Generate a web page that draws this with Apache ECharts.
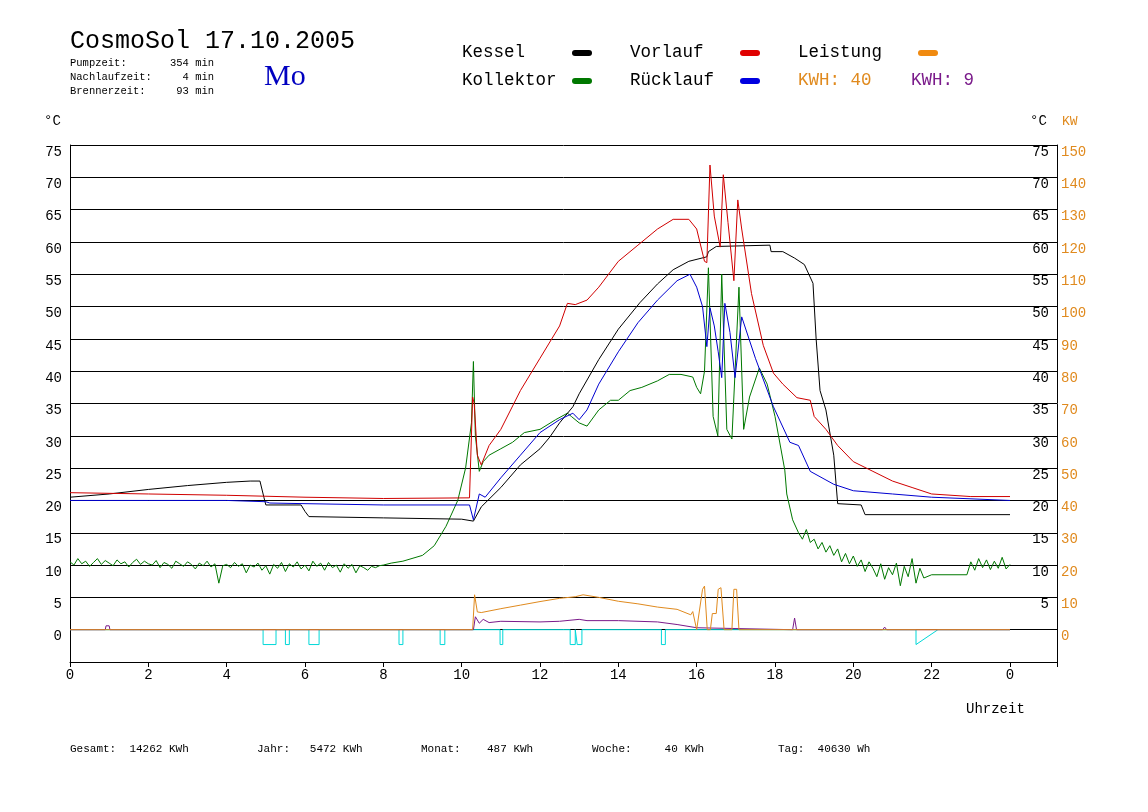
<!DOCTYPE html>
<html><head><meta charset="utf-8">
<script src="https://cdn.jsdelivr.net/npm/echarts@6/dist/echarts.min.js"></script>
<style>html,body{margin:0;background:#fff}#c{width:1148px;height:812px}</style>
</head><body><div id="c"></div>
<script>
const xTicks = [0,2,4,6,8,10,12,14,16,18,20,22,24];
const kesselT = [0,1,2,3,4,4.6,4.85,4.95,5,5.9,6,6.1,8,10,10.3,10.5,11,11.5,12,12.25,12.5,12.84,13,13.5,14,14.55,15,15.4,15.8,16.26,16.3,16.5,17.87,17.9,18.2,18.5,18.75,18.97,19.05,19.15,19.3,19.5,19.6,20.2,20.3,24];
const kesselV = [20.5,21,21.7,22.3,22.8,23,23,20.5,19.3,19.3,18.3,17.5,17.3,17.1,16.8,19,22,25.5,28,29.8,32,34.5,36.5,41.8,46.5,50.6,53.5,55.7,57,57.7,58.5,59.3,59.5,58.5,58.5,57.5,56.5,53.6,45,37,34,27,19.5,19.3,17.8,17.8];
const redT = [0,2,4,6,8,10.2,10.28,10.32,10.4,10.5,10.7,11,11.5,12,12.5,12.7,12.9,13.2,13.5,14,14.5,15,15.4,15.8,16.0,16.2,16.26,16.34,16.45,16.6,16.68,16.8,16.95,17.05,17.15,17.4,17.7,17.96,18.2,18.56,18.9,19.0,19.3,19.6,20,20.5,21,21.5,22,23,24];
const redV = [21.2,21,20.8,20.5,20.3,20.4,36,35,27,25.5,28.5,31,37,42,47,50.5,50.3,51,53,57,59.5,62,63.5,63.5,62,57,56.8,71.9,64,59.2,70.4,63,54,66.5,62,52,44,39.7,38,35.9,35.5,33,31,28.5,26,24.5,23,22,21,20.6,20.6];
const blueT = [0,2,4,5,5.1,6,8,10.2,10.3,10.45,10.6,11,11.5,12,12.5,12.84,13,13.2,13.5,14,14.5,15,15.5,15.83,16.0,16.15,16.26,16.34,16.45,16.55,16.64,16.72,16.85,16.98,17.15,17.5,17.96,18.38,18.6,18.9,19.5,20,21,22,24];
const blueV = [20,20,20,19.8,19.6,19.5,19.3,19.3,17,21,20.5,23.5,27,30.5,32.5,33.5,32.5,34,38,43,47.5,51,54,55,53,50,43.8,49.8,47,43,39,50.5,46,39,48.4,42,34.5,29,28.5,24.5,22.5,21.5,21,20.5,20];
const greenT = [0,0.1,0.2,0.3,0.4,0.5,0.6,0.7,0.8,0.9,1,1.1,1.2,1.3,1.4,1.5,1.6,1.7,1.8,1.9,2,2.1,2.2,2.3,2.4,2.5,2.6,2.7,2.8,2.9,3,3.1,3.2,3.3,3.4,3.5,3.6,3.7,3.8,3.9,4,4.1,4.2,4.3,4.4,4.5,4.6,4.7,4.8,4.9,5,5.1,5.2,5.3,5.4,5.5,5.6,5.7,5.8,5.9,6,6.1,6.2,6.3,6.4,6.5,6.6,6.7,6.8,6.9,7,7.1,7.2,7.3,7.4,7.5,7.6,7.7,7.8,7.9,8,8.2,8.5,9,9.3,9.6,9.9,10.1,10.25,10.3,10.35,10.45,10.55,10.7,11,11.3,11.6,12,12.4,12.7,12.8,13,13.2,13.5,13.8,14,14.3,14.6,15,15.3,15.6,15.9,16.0,16.1,16.2,16.3,16.42,16.54,16.64,16.77,16.9,17.08,17.2,17.35,17.6,17.8,18,18.25,18.3,18.45,18.6,18.7,18.8,18.9,19,19.1,19.2,19.3,19.4,19.5,19.6,19.7,19.8,19.9,20,20.1,20.2,20.3,20.4,20.5,20.6,20.7,20.8,20.9,21,21.1,21.2,21.3,21.4,21.5,21.6,21.7,21.8,22,22.9,23,23.1,23.2,23.3,23.4,23.5,23.6,23.7,23.8,23.9,24];
const greenV = [10.5,10,11,10.2,10.6,9.8,10.4,11,10.1,10.7,10.3,9.9,10.8,10.2,10.5,9.7,10.4,10.9,10.1,10.6,10.2,10,10.7,9.6,10.4,10.1,9.5,10.6,10.2,9.8,10.5,10.1,9.4,10.3,9.9,10.6,9.7,10.2,7.2,9.9,10.1,9.6,10.4,9.8,10.2,8.8,10,9.7,10.3,9.2,9.9,8.6,10.1,9.5,10.4,9,10.2,9.7,10.5,9.4,10,9.1,10.6,9.8,10.3,9.2,10.4,9.6,10,8.9,10.2,9.5,10.1,8.8,9.9,9.6,9.2,9.8,9.6,9.9,10,10.3,10.6,11.5,13,16,20,25,32,41.5,30,24.5,26,27,28,29,30.5,31,32.5,33.5,33,32,31.5,34,35.5,35.5,37,37.5,38.5,39.5,39.5,39.1,37.5,36.5,40,56,33,30,55,31,29.5,53,31,36,40.5,38,33,24.7,21,17,15,14,15.5,13.5,14,12.5,13.5,12,13,11.5,12.5,10.5,11.8,10.2,11.4,9.8,10.8,9,10.5,9.5,8.2,10.2,7.8,9.6,8.5,10.3,6.8,9.8,8.2,11,7.2,9.5,8,8.5,8.5,10.5,9.2,11,9.6,10.8,9.3,10.6,9.5,11.2,9.4,10.1];
const orangeT = [0,10.28,10.33,10.4,10.5,11,11.5,12,12.5,12.9,13.1,13.5,14,14.5,15,15.5,15.85,15.9,16.0,16.05,16.15,16.2,16.27,16.35,16.4,16.5,16.55,16.62,16.7,16.8,16.9,16.95,17.02,17.08,24];
const orangeV = [0,0,10.8,5.5,5.3,6.5,7.6,8.7,9.7,10.2,10.8,10,8.8,8,7,6.3,4.6,5.6,0,0,12.5,13.5,0,0,5,5,12.5,13,0,0,0,12.5,12.5,0,0];
const purpleT = [0,0.9,0.92,1.0,1.02,10.3,10.35,10.45,10.55,10.7,11,12,12.5,13,13.2,14,15,15.5,16,16.05,18.45,18.5,18.55,20.75,20.8,20.85,24];
const purpleV = [0,0,0.6,0.6,0,0,2,1,1.6,1.1,1.3,1.2,1.3,1.6,1.4,1.4,1.2,0.8,0.3,0,0,1.8,0,0,0.4,0,0];
const cyanT = [0,4.93,4.93,5.26,5.26,5.5,5.5,5.6,5.6,6.1,6.1,6.36,6.36,8.4,8.4,8.5,8.5,9.45,9.45,9.57,9.57,10.98,10.98,11.05,11.05,12.77,12.77,12.9,12.9,12.95,12.95,13.07,13.07,15.1,15.1,15.2,15.2,21.6,21.6,22.16,24];
const cyanV = [0,0,-2.3,-2.3,0,0,-2.3,-2.3,0,0,-2.3,-2.3,0,0,-2.3,-2.3,0,0,-2.3,-2.3,0,0,-2.3,-2.3,0,0,-2.3,-2.3,0,0,-2.3,-2.3,0,0,-2.3,-2.3,0,0,-2.3,0,0];

const zip = (t,v)=>t.map((x,i)=>[x,v[i]]);
const mono = 'Liberation Mono';
function line(name,t,v,color,yIdx,z){return {name,type:'line',data:zip(t,v),yAxisIndex:yIdx||0,showSymbol:false,symbol:'none',lineStyle:{color,width:1},itemStyle:{color},z:z||2,animation:false};}
const T=(x,y,text,size,color,extra)=>Object.assign({type:'text',left:x,top:y,style:{text,font:`${size}px "${mono}"`,fill:color||'#000'}},extra||{});
const pill=(x,y,color)=>({type:'rect',shape:{x,y,width:20,height:6,r:3},style:{fill:color}});
const chart = echarts.init(document.getElementById('c'));
chart.setOption({
  animation:false,
  backgroundColor:'#fff',
  grid:{left:70,right:91,top:145,bottom:150},
  xAxis:{type:'value',min:0,max:25.2,interval:2,
    axisLine:{onZero:false,lineStyle:{color:'#000',width:1}},
    axisTick:{show:true,length:5,lineStyle:{color:'#000'}},
    splitLine:{show:false},showMaxLabel:false,
    axisLabel:{color:'#000',fontFamily:mono,fontSize:14,margin:6,formatter:v=>xTicks.includes(v)?(v===24?'0':String(v)):''}},
  yAxis:[
    {type:'value',min:-5,max:75,interval:5,position:'left',
     axisLine:{show:true,lineStyle:{color:'#000'}},axisTick:{show:false},
     splitLine:{show:true,lineStyle:{color:'#000',width:1}},
     axisLabel:{color:'#000',fontFamily:mono,fontSize:14,margin:8,verticalAlign:'top',formatter:v=>v<0?'':String(v)}},
    {type:'value',min:-5,max:75,interval:5,position:'right',offset:0,
     axisLine:{show:false},axisTick:{show:false},splitLine:{show:false},
     axisLabel:{inside:true,color:'#000',fontFamily:mono,fontSize:14,margin:8,verticalAlign:'top',formatter:v=>v<=0?'':String(v)}},
    {type:'value',min:-10,max:150,interval:10,position:'right',offset:0,
     axisLine:{show:true,lineStyle:{color:'#000'}},axisTick:{show:false},splitLine:{show:false},
     axisLabel:{color:'#e08a1e',fontFamily:mono,fontSize:14,margin:4,verticalAlign:'top',formatter:v=>v<0?'':String(v)}}
  ],
  series:[
    line('Cyan',cyanT,cyanV,'#00d8d8',0,3),
    line('Purple',purpleT,purpleV,'#7a1a8a',0,4),
    line('Leistung',orangeT,orangeV,'#e08a1e',2,4),
    line('Kollektor',greenT,greenV,'#007800',0,5),
    line('Kessel',kesselT,kesselV,'#000000',0,6),
    line('Rücklauf',blueT,blueV,'#0000d0',0,7),
    line('Vorlauf',redT,redV,'#d00000',0,8)
  ],
  graphic:[
    T(70,29,'CosmoSol 17.10.2005',25,'#000'),
    T(70,58,'Pumpzeit:',10.5),T(70,72,'Nachlaufzeit:',10.5),T(70,86,'Brennerzeit:',10.5),
    T(170,58,'354 min',10.5),T(170,72,'  4 min',10.5),T(170,86,' 93 min',10.5),
    {type:'text',left:264,top:62,style:{text:'Mo',font:'30px "Liberation Serif"',fill:'#0000c0'}},
    T(462,43,'Kessel',17.5),pill(572,50,'#000'),
    T(630,43,'Vorlauf',17.5),pill(740,50,'#e00000'),
    T(798,43,'Leistung',17.5),pill(918,50,'#f08a10'),
    T(462,71,'Kollektor',17.5),pill(572,78,'#007800'),
    T(630,71,'Rücklauf',17.5),pill(740,78,'#0000e0'),
    T(798,71,'KWH: 40',17.5,'#e08a1e'),
    T(911,71,'KWH: 9',17.5,'#7a1a8a'),
    T(44,114,'°C',14),T(1030,114,'°C',14),T(1062,115,'KW',13,'#e08a1e'),
    T(966,702,'Uhrzeit',14),
    T(70,744,'Gesamt:  14262 KWh',11),T(257,744,'Jahr:   5472 KWh',11),
    T(421,744,'Monat:    487 KWh',11),T(592,744,'Woche:     40 KWh',11),T(778,744,'Tag:  40630 Wh',11)
  ]
});
</script></body></html>
